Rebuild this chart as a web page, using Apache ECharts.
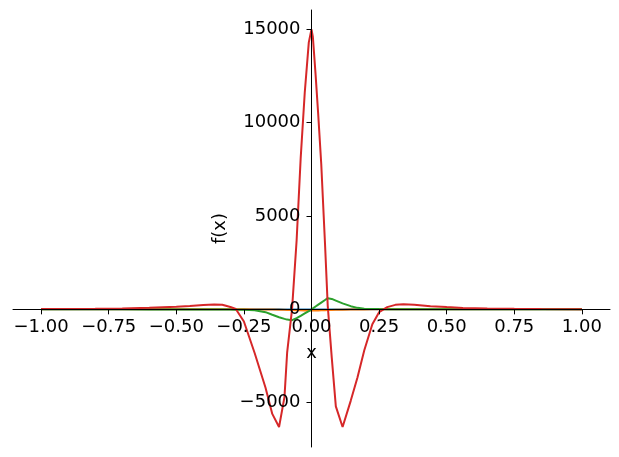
<!DOCTYPE html>
<html>
<head>
<meta charset="utf-8">
<script src="https://cdn.jsdelivr.net/npm/echarts@6/dist/echarts.min.js"></script>
<style>
html,body{margin:0;padding:0;background:#fff;}
#chart{width:619px;height:457px;}
</style>
</head>
<body>
<div id="chart"></div>
<script>
// Sample positions along x (shared by all series)
var xValues = [-1.0, -0.9, -0.8, -0.7, -0.6, -0.5, -0.45, -0.4, -0.36, -0.33, -0.3, -0.28, -0.25, -0.21, -0.17, -0.145, -0.12, -0.1, -0.09, -0.072, -0.055, -0.04, -0.025, -0.01, 0, 0.005, 0.015, 0.025, 0.036, 0.05, 0.06, 0.075, 0.09, 0.115, 0.145, 0.17, 0.195, 0.225, 0.25, 0.28, 0.31, 0.34, 0.38, 0.44, 0.5, 0.56, 0.65, 0.75, 0.85, 1.0];

// Series values
var blueValues = [0, 0, 0, 0, 0, 0, 0, 0, 0, 0, 0, 0, 0, 0, -1, -1, -1, -2, -2, -2, -3, -3, -3, -3, -3, -3, -3, -3, -3, -3, -3, -3, -2, -2, -1, -1, -1, 0, 0, 0, 0, 0, 0, 0, 0, 0, 0, 0, 0, 0];
var orangeValues = [0, 0, 0, 0, 0, 0, 0, -1, -1, -1, -1, -1, -1, -2, -5, -10, -18, -27, -32, -40, -48, -53, -56, -58, -58, -58, -57, -55, -52, -46, -40, -33, -27, -17, -9, -5, -2, -1, -1, -1, -1, 0, 0, 0, 0, 0, 0, 0, 0, 0];
var greenValues = [0, 0, -1, -1, -2, -4, -5, -7, -9, -11, -14, -17, -25, -50, -150, -290, -420, -510, -550, -580, -470, -350, -220, -90, 0, 50, 150, 250, 360, 500, 600, 560, 470, 320, 170, 80, 35, 20, 14, 11, 9, 7, 5, 4, 3, 2, 1, 1, 0, 0];
var redValues = [12, 18, 28, 50, 85, 140, 185, 235, 265, 250, 130, 20, -650, -2350, -4200, -5600, -6300, -4700, -2300, 0, 3700, 8100, 11600, 14300, 15000, 14600, 12600, 10400, 7800, 3500, 200, -2600, -5200, -6300, -4900, -3650, -2200, -800, -150, 120, 240, 270, 250, 170, 120, 75, 45, 28, 18, 10];

// Tick labels
var xTicks = [-1.0, -0.75, -0.5, -0.25, 0, 0.25, 0.5, 0.75, 1.0];
var yTicks = [-5000, 0, 5000, 10000, 15000];

// Axis extents
var xMin = -1.104, xMax = 1.104;
var yMin = -7373, yMax = 16034;

function pairs(vals) {
  return xValues.map(function (x, i) { return [x, vals[i]]; });
}
function minusFmt(s) { return s.charAt(0) === '-' ? '\u2212' + s.slice(1) : s; }

var W = 619, H = 457;
var gL = 13, gR = 9, gT = 10, gB = 10;
var plotW = W - gL - gR, plotH = H - gT - gB;
// pixel positions of the zero lines (spines cross at the origin)
var zeroY = gT + plotH * (yMax - 0) / (yMax - yMin);
var zeroX = gL + plotW * (0 - xMin) / (xMax - xMin);

var colors = ['#1f77b4', '#ff7f0e', '#2ca02c', '#d62728'];
var seriesVals = [blueValues, orangeValues, greenValues, redValues];
var font = 'DejaVu Sans';
var txt = {fontFamily: font, fontSize: 18, color: '#000'};

var chart = echarts.init(document.getElementById('chart'), null, {renderer: 'canvas'});
chart.setOption({
  animation: false,
  backgroundColor: '#ffffff',
  grid: [
    {left: gL, right: gR, top: gT, bottom: gB, containLabel: false, outerBoundsMode: 'none'},
    // x spine grid: bottom edge on y = 0
    {left: gL, right: gR, top: gT, bottom: H - zeroY, containLabel: false, outerBoundsMode: 'none'},
    // y spine grid: left edge on x = 0
    {left: zeroX, right: gR, top: gT, bottom: gB, containLabel: false, outerBoundsMode: 'none'}
  ],
  xAxis: [
    {gridIndex: 0, type: 'value', min: xMin, max: xMax, show: false},
    {
      gridIndex: 1, type: 'value', min: xMin, max: xMax, position: 'bottom', z: 10,
      name: 'x', nameLocation: 'middle', nameGap: 35, nameTextStyle: txt,
      axisLine: {show: true, onZero: false, lineStyle: {color: '#000', width: 1}},
      axisTick: {show: true, length: 5, lineStyle: {color: '#000', width: 1}, customValues: xTicks},
      axisLabel: {
        customValues: xTicks, margin: 9,
        fontFamily: font, fontSize: 18, color: '#000',
        formatter: function (v) { return minusFmt(Number(v).toFixed(2)); }
      },
      splitLine: {show: false}
    },
    {gridIndex: 2, type: 'value', min: 0, max: 1, show: false}
  ],
  yAxis: [
    {gridIndex: 0, type: 'value', min: yMin, max: yMax, show: false},
    {gridIndex: 1, type: 'value', min: 0, max: 1, show: false},
    {
      gridIndex: 2, type: 'value', min: yMin, max: yMax, position: 'left', z: 10,
      name: 'f(x)', nameLocation: 'middle', nameRotate: 90, nameGap: 82, nameTextStyle: txt,
      axisLine: {show: true, onZero: false, lineStyle: {color: '#000', width: 1}},
      axisTick: {show: true, length: 5, lineStyle: {color: '#000', width: 1}, customValues: yTicks},
      axisLabel: {
        customValues: yTicks, margin: 11,
        fontFamily: font, fontSize: 18, color: '#000',
        formatter: function (v) { return minusFmt(String(Math.round(v))); }
      },
      splitLine: {show: false}
    }
  ],
  series: seriesVals.map(function (vals, i) {
    return {
      type: 'line',
      xAxisIndex: 0, yAxisIndex: 0,
      data: pairs(vals),
      showSymbol: false,
      smooth: false,
      z: 2 + i,
      lineStyle: {color: colors[i], width: 2},
      itemStyle: {color: colors[i]}
    };
  })
});
</script>
</body>
</html>
